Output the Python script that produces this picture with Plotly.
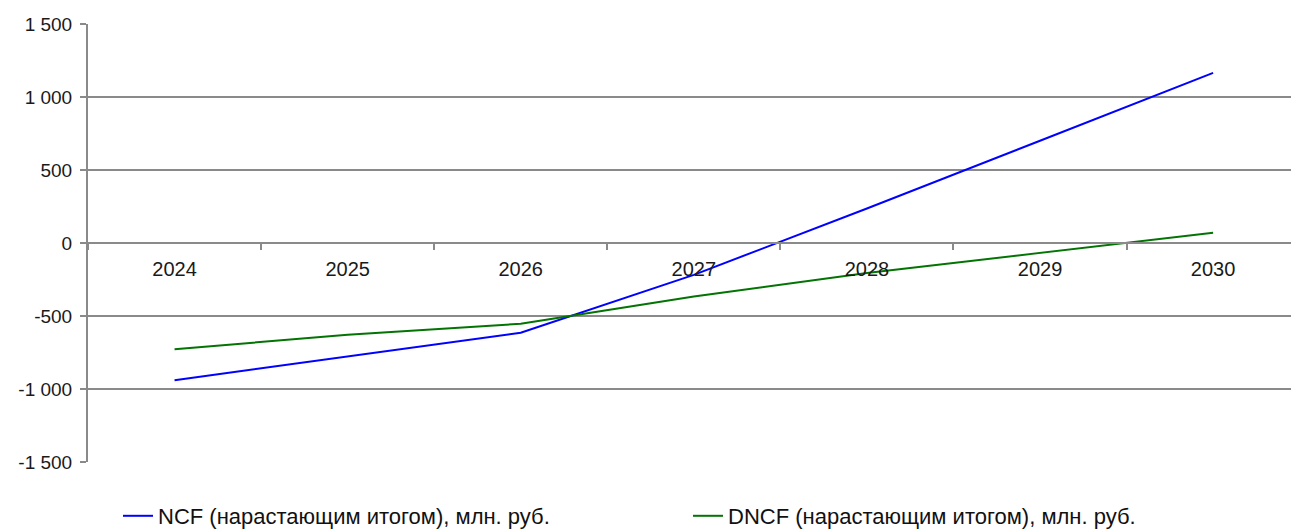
import plotly.graph_objects as go

years = ["2024", "2025", "2026", "2027", "2028", "2029", "2030"]
ncf = [-940, -778, -615, -218, 236, 700, 1165]
dncf = [-728, -628, -553, -366, -205, -65, 70]
y_tick_vals = [-1500, -1000, -500, 0, 500, 1000, 1500]
y_tick_text = ["-1 500", "-1 000", "-500", "0", "500", "1 000", "1 500"]

grid = "#8a8a8a"
font = "Liberation Sans, Arial, sans-serif"

fig = go.Figure()
fig.add_trace(go.Scatter(x=years, y=ncf, mode="lines",
                         name="NCF (нарастающим итогом), млн. руб.",
                         line=dict(color="#0000ff", width=2), legend="legend"))
fig.add_trace(go.Scatter(x=years, y=dncf, mode="lines",
                         name="DNCF (нарастающим итогом), млн. руб.",
                         line=dict(color="#037303", width=2), legend="legend2"))

W, H = 1291, 529
ml, mt, mb = 88, 24, 67

leg_y = (H - 516) / H
leg_common = dict(orientation="h", yanchor="middle", xanchor="left",
                  xref="container", yref="container",
                  font=dict(size=22, color="#111111", family=font),
                  bgcolor="rgba(0,0,0,0)", itemwidth=30)

fig.update_layout(
    width=W, height=H,
    margin=dict(l=ml, r=0, t=mt, b=mb, autoexpand=False),
    paper_bgcolor="white", plot_bgcolor="white",
    font=dict(family=font, size=19, color="#1a1a1a"),
    showlegend=True,
    legend=dict(x=118 / W, y=leg_y, **leg_common),
    legend2=dict(x=688 / W, y=leg_y, **leg_common),
    xaxis=dict(type="category", range=[-0.5, 6.45],
               anchor="free", position=0.5,
               showline=True, linecolor=grid, linewidth=2,
               ticks="outside", tickson="boundaries", ticklen=6, tickcolor=grid, tickwidth=2,
               showgrid=False, zeroline=False,
               ticklabelstandoff=8,
               tickfont=dict(size=20, color="#1a1a1a")),
    yaxis=dict(range=[-1500, 1500], tickvals=y_tick_vals, ticktext=y_tick_text,
               showgrid=True, gridcolor=grid, gridwidth=2,
               zeroline=False, showline=True, linecolor=grid, linewidth=2,
               ticks="outside", ticklen=6, tickcolor=grid, tickwidth=2,
               ticklabelstandoff=4,
               tickfont=dict(size=19, color="#1a1a1a")),
)

fig.write_html("out.html", config={"displayModeBar": False},
               post_script="document.body.style.margin='0';document.body.style.overflow='hidden';")
